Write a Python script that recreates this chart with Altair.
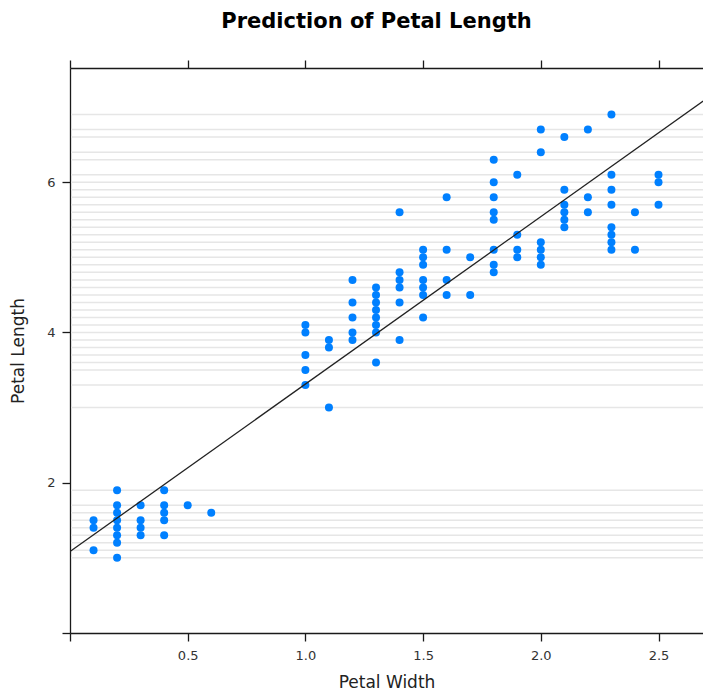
import altair as alt
import pandas as pd

# Unique (petal width, petal length) pairs
petal_width = (
    [0.1] * 3 + [0.2] * 8 + [0.3] * 4 + [0.4] * 5 + [0.5] + [0.6]
    + [1.0] * 5 + [1.1] * 3 + [1.2] * 5 + [1.3] * 8 + [1.4] * 6 + [1.5] * 7
    + [1.6] * 4 + [1.7] * 2 + [1.8] * 8 + [1.9] * 4 + [2.0] * 6 + [2.1] * 6
    + [2.2] * 3 + [2.3] * 8 + [2.4] * 2 + [2.5] * 3
)
petal_length = [
    1.1, 1.4, 1.5,
    1.0, 1.2, 1.3, 1.4, 1.5, 1.6, 1.7, 1.9,
    1.3, 1.4, 1.5, 1.7,
    1.3, 1.5, 1.6, 1.7, 1.9,
    1.7,
    1.6,
    3.3, 3.5, 3.7, 4.0, 4.1,
    3.0, 3.8, 3.9,
    3.9, 4.0, 4.2, 4.4, 4.7,
    3.6, 4.0, 4.1, 4.2, 4.3, 4.4, 4.5, 4.6,
    3.9, 4.4, 4.6, 4.7, 4.8, 5.6,
    4.2, 4.5, 4.6, 4.7, 4.9, 5.0, 5.1,
    4.5, 4.7, 5.1, 5.8,
    4.5, 5.0,
    4.8, 4.9, 5.1, 5.5, 5.6, 5.8, 6.0, 6.3,
    5.0, 5.1, 5.3, 6.1,
    4.9, 5.0, 5.1, 5.2, 6.4, 6.7,
    5.4, 5.5, 5.6, 5.7, 5.9, 6.6,
    5.6, 5.8, 6.7,
    5.1, 5.2, 5.3, 5.4, 5.7, 5.9, 6.1, 6.9,
    5.1, 5.6,
    5.7, 6.0, 6.1,
]

# Fitted line end points
fit_x = [0.0, 2.69]
fit_y = [1.084, 7.08]

x_ticks = [0, 0.5, 1.0, 1.5, 2.0, 2.5]
y_ticks = [0, 2, 4, 6]

pts = pd.DataFrame({"w": petal_width, "l": petal_length})
ref = pd.DataFrame({"l": sorted(set(petal_length))})
fit = pd.DataFrame({"w": fit_x, "l": fit_y})

xscale = alt.Scale(domain=[0, 2.689], nice=False, zero=False)
yscale = alt.Scale(domain=[0, 7.52], nice=False, zero=False)

axis_style = dict(
    domainColor="#1a1a1a", domainWidth=1.3,
    tickColor="#1a1a1a", tickWidth=1.3, tickSize=8,
    labelFont="DejaVu Sans", labelFontSize=13, labelColor="#333333",
    titleFont="DejaVu Sans", titleFontSize=17, titleFontWeight="normal",
    titleColor="#222222", grid=False,
)

y_axis = alt.Axis(
    values=y_ticks, title="Petal Length",
    labelExpr="datum.value == 0 ? '' : datum.label",
    labelPadding=7, titlePadding=19, **axis_style,
)

grid = alt.Chart(ref).mark_rule(color="#e6e6e6", strokeWidth=1.5).encode(
    y=alt.Y("l:Q", scale=yscale, axis=y_axis),
    x=alt.value(1),
    x2=alt.value(633),
)

points = alt.Chart(pts).mark_circle(color="#0080ff", size=64, opacity=1).encode(
    x=alt.X("w:Q", scale=xscale, axis=alt.Axis(
        values=x_ticks, title="Petal Width", format=".1f",
        labelExpr="datum.value == 0 ? '' : datum.label",
        labelPadding=8, titlePadding=12, orient="bottom", **axis_style)),
    y=alt.Y("l:Q", scale=yscale, axis=y_axis),
)

line = alt.Chart(fit).mark_line(color="#222222", strokeWidth=1.3, clip=True).encode(
    x=alt.X("w:Q", scale=xscale, axis=alt.Axis(
        values=x_ticks, title=None, labels=False, orient="top", **axis_style)),
    y=alt.Y("l:Q", scale=yscale, axis=y_axis),
)

chart = alt.layer(grid, points, line).resolve_axis(x="independent").properties(
    width=633,
    height=565,
    autosize=alt.AutoSizeParams(type="none"),
    padding={"left": 70, "top": 68, "right": 0, "bottom": 59},
    background="white",
    title=alt.TitleParams(
        "Prediction of Petal Length", font="DejaVu Sans", fontSize=21,
        fontWeight="bold", color="#000000", anchor="middle", dx=-10, offset=27,
    ),
).configure_view(stroke=None)

chart.save("out.html", embed_options={"renderer": "svg", "actions": False})
